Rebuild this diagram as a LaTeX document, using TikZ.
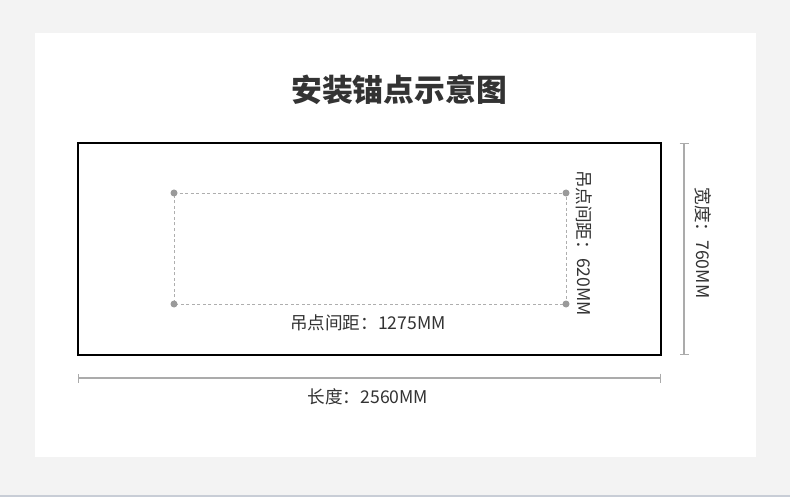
\documentclass[tikz,border=0pt]{standalone}
\usepackage{fontspec}
\setmainfont{Noto Sans CJK SC}
\usetikzlibrary{math}
\usetikzlibrary{arrows.meta}

\definecolor{bggray}{HTML}{F3F3F3}
\definecolor{inkgray}{HTML}{333333}
\definecolor{dimgray}{HTML}{ABABAB}
\definecolor{dotgray}{HTML}{9A9A9A}

\tikzset{
  plate/.style = {draw = black, line width = 1.8pt},
  hangline/.style = {draw = dotgray!80, line width = 0.9pt, dash pattern = on 3pt off 2.5pt},
  hangdot/.style = {circle, fill = dotgray, inner sep = 0pt, minimum size = 7pt},
  dimline/.style = {draw = dimgray, line width = 1.3pt, {Bar[width=9pt]}-{Bar[width=9pt]}},
  label/.style = {text = inkgray, font = \fontsize{17.6}{20}\selectfont, inner sep = 0pt}
}

\begin{document}
\begin{tikzpicture}[x = 1pt, y = -1pt]

    % page and white panel
    \useasboundingbox (0,0) rectangle (790,497);
    \fill[bggray] (0,0) rectangle (790,497);
    \fill[white] (35,33) rectangle (756,457);
    \draw[color = {rgb,255:red,200;green,205;blue,214}, line width = 1.5pt] (0,496) -- (790,496);

    \node[text = inkgray, font = \fontsize{30.8}{34}\selectfont\bfseries] (title) at (399,90) {安装锚点示意图};

    % outline of the unit
    \tikzmath{\xl = 78; \xr = 661; \yt = 143; \yb = 355;};
    \draw[plate] (\xl,\yt) rectangle (\xr,\yb);

    % hanging points
    \coordinate (p1) at (174,193);
    \coordinate (p2) at (566,193);
    \coordinate (p3) at (566,304);
    \coordinate (p4) at (174,304);
    \draw[hangline] (p1) -- (p2) -- (p3) -- (p4) -- cycle;
    \foreach \p in {p1,p2,p3,p4}
        \node[hangdot] at (\p) {};

    \node[label] (gapx) at (368,323) {吊点间距：1275MM};
    \node[label, rotate = -90] (gapy) at (584,243) {吊点间距：620MM};

    % overall dimensions
    \coordinate (lenl) at (\xl,378);
    \coordinate (lenr) at (\xr,378);
    \draw[dimline] (lenl) -- (lenr);
    \node[label] (len) at (368,397) {长度：2560MM};

    \coordinate (widt) at (684,\yt);
    \coordinate (widb) at (684,\yb);
    \draw[dimline] (widt) -- (widb);
    \node[label, rotate = -90] (wid) at (703,243) {宽度：760MM};

\end{tikzpicture}
\end{document}
